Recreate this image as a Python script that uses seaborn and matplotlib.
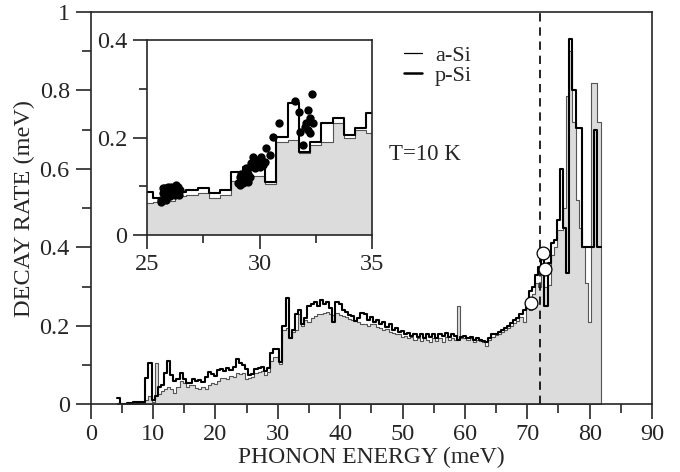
import numpy as np
import pandas as pd
import matplotlib
matplotlib.use("Agg")
import matplotlib.pyplot as plt
from matplotlib.ticker import MultipleLocator, FormatStrFormatter
from matplotlib.lines import Line2D
import seaborn as sns

sns.set_style("ticks")
plt.rcParams['font.family'] = ['Liberation Serif', 'DejaVu Serif']
FS = 17.5

# ---------------- data ----------------
# bin centres (meV), bin width 0.5 meV
energy = [4.5 + 0.5 * i for i in range(155)]

p_si = [
    0.015, 0.002, 0.002, 0.003, 0.004, 0.005, 0.006, 0.005, 0.007, 0.068,   # 4.5 - 9.0
    0.105, 0.010, 0.020, 0.045, 0.050, 0.080, 0.110, 0.075, 0.060, 0.065,   # 9.5 - 14.0
    0.080, 0.065, 0.055, 0.055, 0.065, 0.060, 0.062, 0.058, 0.070, 0.082,   # 14.5 - 19.0
    0.078, 0.072, 0.088, 0.090, 0.085, 0.092, 0.088, 0.096, 0.116, 0.105,   # 19.5 - 24.0
    0.100, 0.089, 0.075, 0.078, 0.089, 0.092, 0.096, 0.086, 0.092, 0.130,   # 24.5 - 29.0
    0.140, 0.140, 0.108, 0.200, 0.270, 0.170, 0.190, 0.230, 0.240, 0.205,   # 29.5 - 34.0
    0.220, 0.250, 0.255, 0.260, 0.250, 0.265, 0.255, 0.262, 0.245, 0.210,   # 34.5 - 39.0
    0.260, 0.255, 0.240, 0.235, 0.228, 0.225, 0.212, 0.220, 0.232, 0.230,   # 39.5 - 44.0
    0.215, 0.222, 0.210, 0.215, 0.205, 0.210, 0.198, 0.205, 0.190, 0.195,   # 44.5 - 49.0
    0.185, 0.188, 0.178, 0.182, 0.175, 0.180, 0.172, 0.178, 0.170, 0.180,   # 49.5 - 54.0
    0.172, 0.178, 0.168, 0.180, 0.175, 0.182, 0.172, 0.178, 0.175, 0.165,   # 54.5 - 59.0
    0.172, 0.175, 0.168, 0.172, 0.165, 0.170, 0.165, 0.162, 0.160, 0.170,   # 59.5 - 64.0
    0.178, 0.180, 0.185, 0.190, 0.195, 0.200, 0.208, 0.215, 0.220, 0.230,   # 64.5 - 69.0
    0.240, 0.260, 0.290, 0.300, 0.330, 0.350, 0.380, 0.250, 0.360, 0.410,   # 69.5 - 74.0
    0.420, 0.470, 0.600, 0.450, 0.335, 0.930, 0.800, 0.705, 0.705, 0.400,   # 74.5 - 79.0
    0.400, 0.400, 0.400, 0.700, 0.400,                                      # 79.5 - 81.5
]

a_si = [
    0.003, 0.001, 0.001, 0.002, 0.002, 0.003, 0.004, 0.004, 0.004, 0.010,   # 4.5 - 9.0
    0.020, 0.005, 0.105, 0.025, 0.035, 0.040, 0.045, 0.040, 0.030, 0.045,   # 9.5 - 14.0
    0.060, 0.055, 0.045, 0.050, 0.048, 0.042, 0.040, 0.045, 0.040, 0.048,   # 14.5 - 19.0
    0.055, 0.052, 0.060, 0.068, 0.066, 0.064, 0.072, 0.070, 0.080, 0.078,   # 19.5 - 24.0
    0.080, 0.065, 0.068, 0.070, 0.079, 0.082, 0.086, 0.075, 0.082, 0.110,   # 24.5 - 29.0
    0.120, 0.120, 0.104, 0.190, 0.195, 0.168, 0.185, 0.190, 0.230, 0.200,   # 29.5 - 34.0
    0.215, 0.210, 0.220, 0.225, 0.230, 0.230, 0.232, 0.235, 0.230, 0.228,   # 34.5 - 39.0
    0.232, 0.228, 0.225, 0.222, 0.218, 0.215, 0.212, 0.210, 0.205, 0.205,   # 39.5 - 44.0
    0.200, 0.205, 0.205, 0.198, 0.195, 0.190, 0.192, 0.185, 0.182, 0.178,   # 44.5 - 49.0
    0.180, 0.172, 0.175, 0.168, 0.172, 0.165, 0.168, 0.162, 0.172, 0.165,   # 49.5 - 54.0
    0.158, 0.170, 0.162, 0.168, 0.160, 0.172, 0.165, 0.170, 0.165, 0.250,   # 54.5 - 59.0
    0.168, 0.170, 0.165, 0.168, 0.160, 0.165, 0.162, 0.160, 0.148, 0.165,   # 59.5 - 64.0
    0.172, 0.176, 0.180, 0.185, 0.190, 0.195, 0.200, 0.208, 0.212, 0.222,   # 64.5 - 69.0
    0.210, 0.245, 0.240, 0.280, 0.310, 0.300, 0.330, 0.300, 0.305, 0.380,   # 69.5 - 74.0
    0.400, 0.445, 0.445, 0.500, 0.785, 0.900, 0.720, 0.520, 0.450, 0.400,   # 74.5 - 79.0
    0.310, 0.210, 0.820, 0.820, 0.720,                                      # 79.5 - 81.5
]

# open circles (main panel)
open_x = [70.6, 72.6, 72.9]
open_y = [0.257, 0.386, 0.345]

# filled dots (inset)
dot_x = [25.64, 25.71, 25.79, 25.86, 25.93, 26.01, 26.08, 26.16, 26.23, 26.30,
         26.38, 26.45, 26.42, 26.23, 26.01, 25.79, 25.64, 25.86, 26.16, 25.71,
         29.04, 29.12, 29.19, 29.27, 29.34, 29.41, 29.49, 29.56, 29.64, 29.71,
         29.79, 29.86, 29.93, 30.01, 30.08, 30.16, 30.23, 30.30, 30.45, 29.12,
         29.27, 29.49, 29.56, 29.41, 29.79,
         30.60, 30.87, 31.56, 31.76, 32.16, 32.35, 32.26, 32.38, 32.08, 31.79,
         31.93, 32.16, 32.26, 32.01]
dot_y = [0.072, 0.086, 0.096, 0.092, 0.099, 0.089, 0.099, 0.092, 0.096, 0.103,
         0.099, 0.092, 0.082, 0.082, 0.079, 0.079, 0.068, 0.072, 0.086, 0.096,
         0.106, 0.120, 0.126, 0.116, 0.130, 0.137, 0.126, 0.140, 0.147, 0.161,
         0.137, 0.147, 0.154, 0.140, 0.161, 0.144, 0.150, 0.178, 0.164, 0.103,
         0.106, 0.109, 0.120, 0.113, 0.154,
         0.202, 0.230, 0.274, 0.253, 0.256, 0.289, 0.239, 0.229, 0.229, 0.212,
         0.185, 0.215, 0.209, 0.222]

dashed_x = 72.0

df = pd.DataFrame({"energy": energy, "a": a_si, "p": p_si})
edges = [energy[0] - 0.25] + [e + 0.25 for e in energy]

# ---------------- figure ----------------
fig = plt.figure(figsize=(6.8, 4.72), dpi=100)
ax = fig.add_axes([90.7 / 680, 1 - 404.3 / 472, (652 - 90.7) / 680, (404.3 - 12) / 472])
axi = fig.add_axes([147 / 680, 1 - 235 / 472, (372 - 147) / 680, (235 - 40) / 472])


def draw_hist(a):
    sns.histplot(x=df["energy"], weights=df["a"], bins=edges, element="step",
                 fill=True, color="#dcdcdc", alpha=1, edgecolor="#555555",
                 linewidth=0.8, ax=a)
    sns.histplot(x=df["energy"], weights=df["p"], bins=edges, element="step",
                 fill=False, color="black", linewidth=1.5, ax=a)


def style_ticks(a, major_len, minor_len):
    a.tick_params(axis="x", which="major", direction="out", length=major_len,
                  width=1.2, labelsize=FS, pad=3.5)
    a.tick_params(axis="y", which="major", direction="out", length=major_len,
                  width=1.2, labelsize=FS, pad=4)
    a.tick_params(which="minor", direction="out", length=minor_len, width=1.2)
    for s in a.spines.values():
        s.set_linewidth(1.2)
        s.set_visible(True)


draw_hist(ax)
ax.axvline(dashed_x, color="black", linestyle=(0, (5, 3.5)), linewidth=1.2)
sns.scatterplot(x=open_x, y=open_y, ax=ax, s=85, facecolor="white",
                edgecolor="black", linewidth=0.9, zorder=5)

ax.set_xlim(0, 90)
ax.set_ylim(0, 1)
ax.xaxis.set_major_locator(MultipleLocator(10))
ax.xaxis.set_minor_locator(MultipleLocator(5))
ax.yaxis.set_major_locator(MultipleLocator(0.2))
ax.yaxis.set_minor_locator(MultipleLocator(0.1))
ax.yaxis.set_major_formatter(FormatStrFormatter('%g'))
ax.set_xlabel("PHONON ENERGY (meV)", fontsize=17, labelpad=1)
ax.set_ylabel("DECAY RATE (meV)", fontsize=FS, labelpad=3)
style_ticks(ax, 11, 6.5)

ax.text(47.9, 0.636, "T=10 K", fontsize=FS - 1, ha="left", va="center")

handles = [Line2D([], [], color="black", linewidth=0.9),
           Line2D([], [], color="black", linewidth=1.8)]
ax.legend(handles, ["a-Si", "p-Si"], frameon=False, loc="upper left",
          bbox_to_anchor=(404 / 680, 1 - 45 / 472), bbox_transform=fig.transFigure,
          handlelength=0.8, handletextpad=0.6, labelspacing=0.0, fontsize=16,
          borderaxespad=0, borderpad=0)

# inset
draw_hist(axi)
sns.scatterplot(x=dot_x, y=dot_y, ax=axi, s=36, color="black",
                edgecolor="black", linewidth=0, zorder=5)
axi.set_xlim(25, 35)
axi.set_ylim(0, 0.4)
axi.xaxis.set_major_locator(MultipleLocator(5))
axi.xaxis.set_minor_locator(MultipleLocator(2.5))
axi.yaxis.set_major_locator(MultipleLocator(0.2))
axi.yaxis.set_minor_locator(MultipleLocator(0.1))
axi.yaxis.set_major_formatter(FormatStrFormatter('%g'))
axi.set_xlabel("")
axi.set_ylabel("")
style_ticks(axi, 10, 6)
axi.set_facecolor("white")

fig.savefig("out.png", dpi=100)
